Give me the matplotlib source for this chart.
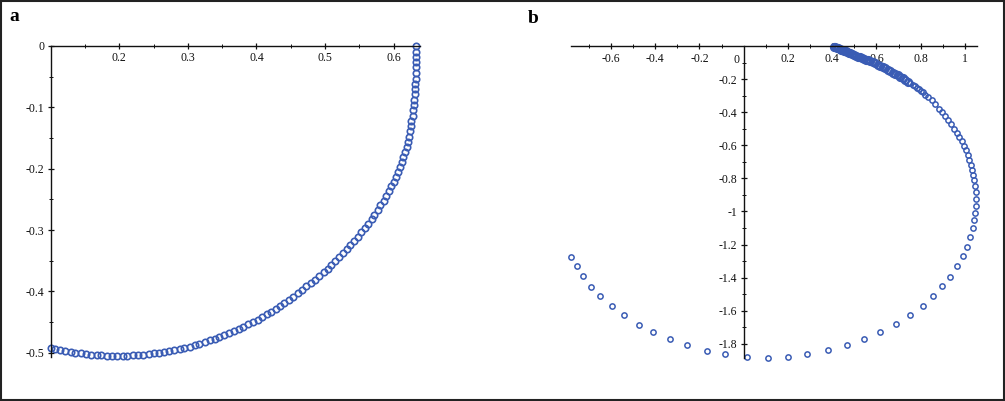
import matplotlib
matplotlib.use("Agg")
import matplotlib.pyplot as plt
from matplotlib.patches import Rectangle

plt.rcParams['font.family'] = ['Liberation Serif', 'DejaVu Serif']
plt.rcParams['axes.unicode_minus'] = False

# panel a: dense trajectory
a_x = [.633, .633, .633, .633, .633, .633, .633, .632, .632, .631,
       .630, .630, .629, .628, .626, .625, .624, .622, .621, .619,
       .617, .614, .612, .609, .606, .603, .600, .597, .593, .589,
       .586, .581, .577, .572, .568, .563, .558, .553, .548, .542,
       .537, .532, .526, .521, .515, .509, .504, .498, .492, .486,
       .479, .473, .467, .460, .454, .447, .441, .434, .428, .422,
       .415, .408, .402, .395, .388, .381, .374, .367, .360, .353,
       .346, .339, .332, .325, .317, .310, .303, .295, .288, .280,
       .273, .265, .258, .250, .243, .235, .227, .220, .212, .205,
       .197, .189, .182, .174, .167, .159, .151, .144, .136, .129,
       .121, .114, .106, .101]
a_y = [0, -.009, -.018, -.026, -.035, -.044, -.053, -.062, -.070, -.079,
       -.088, -.096, -.105, -.114, -.122, -.131, -.139, -.148, -.156, -.164,
       -.173, -.181, -.189, -.197, -.205, -.213, -.221, -.229, -.237, -.245,
       -.253, -.260, -.268, -.275, -.282, -.290, -.297, -.304, -.311, -.318,
       -.325, -.331, -.338, -.344, -.351, -.357, -.363, -.369, -.375, -.381,
       -.387, -.392, -.398, -.403, -.409, -.414, -.419, -.424, -.428, -.433,
       -.437, -.442, -.446, -.450, -.454, -.458, -.461, -.465, -.468, -.471,
       -.475, -.477, -.480, -.483, -.485, -.488, -.490, -.492, -.494, -.496,
       -.497, -.499, -.500, -.501, -.502, -.503, -.504, -.504, -.505, -.505,
       -.505, -.505, -.505, -.504, -.504, -.503, -.502, -.501, -.500, -.499,
       -.497, -.496, -.494, -.492]

# panel b: trajectory, dense near the start (0.4, 0)
b_x = [.407, .413, .420, .427, .434, .441, .447, .454, .461, .468,
       .474, .481, .490, .499, .508, .517, .526, .535, .545, .554,
       .563, .572, .583, .594, .606, .617, .628, .639, .651, .662,
       .673, .685, .696, .707, .718, .730, .741, .752, .764, .773,
       .782, .791, .800, .809, .820, .834,
       .850, .865, .881, .896, .911, .924, .938, .951, .963, .975,
       .986, .996, 1.005, 1.013, 1.020, 1.027, 1.033, 1.038, 1.043, 1.046,
       1.049, 1.050, 1.049, 1.047, 1.043, 1.036, 1.025, 1.009, .991, .965,
       .934, .898, .855, .810, .751, .690, .615, .546, .468, .382,
       .287, .201, .108, .014, -.082, -.165, -.254, -.332, -.408, -.474,
       -.539, -.597, -.647, -.688, -.724, -.754, -.780]
b_y = [-.002, -.006, -.010, -.013, -.017, -.021, -.024, -.028, -.031, -.035,
       -.039, -.042, -.047, -.052, -.057, -.062, -.067, -.071, -.076, -.081,
       -.086, -.091, -.097, -.103, -.111, -.119, -.127, -.134, -.143, -.151,
       -.159, -.167, -.176, -.184, -.194, -.204, -.214, -.224, -.234, -.243,
       -.251, -.260, -.269, -.279, -.292, -.308,
       -.328, -.352, -.377, -.400, -.424, -.448, -.472, -.498, -.523, -.549,
       -.575, -.602, -.630, -.658, -.687, -.717, -.748, -.779, -.812, -.844,
       -.882, -.922, -.964, -1.009, -1.054, -1.103, -1.156, -1.213, -1.271, -1.330,
       -1.395, -1.451, -1.512, -1.570, -1.628, -1.681, -1.729, -1.774, -1.810, -1.840,
       -1.864, -1.879, -1.885, -1.881, -1.864, -1.844, -1.810, -1.774, -1.729, -1.685,
       -1.628, -1.570, -1.510, -1.455, -1.390, -1.330, -1.275]
b_dense = 37  # first points overlap into a solid band

a_xticks = [0.2, 0.3, 0.4, 0.5, 0.6]
a_yticks = [0, -0.1, -0.2, -0.3, -0.4, -0.5]
b_xticks = [-0.6, -0.4, -0.2, 0.2, 0.4, 0.6, 0.8, 1]
b_yticks = [-0.2, -0.4, -0.6, -0.8, -1, -1.2, -1.4, -1.6, -1.8]

blue = '#3a5cb4'

fig = plt.figure(figsize=(10.05, 4.01), dpi=100)
fig.patch.set_facecolor('white')


def style_axes(ax, xcross, ycross):
    for s in ['top', 'right']:
        ax.spines[s].set_visible(False)
    ax.spines['left'].set_position(('data', xcross))
    ax.spines['bottom'].set_position(('data', ycross))
    for s in ['left', 'bottom']:
        ax.spines[s].set_linewidth(1.0)
        ax.spines[s].set_color('#111111')
    ax.tick_params(which='major', direction='inout', length=5, width=0.9,
                   labelsize=8.5, pad=2, colors='#111111')
    ax.tick_params(which='minor', direction='inout', length=3, width=0.7,
                   colors='#111111')
    ax.set_facecolor('none')


def fmt(v):
    return '%g' % v


# panel a
ax1 = fig.add_axes([0.0504, 0.1097, 0.3671, 0.7756])
ax1.plot(a_x, a_y, 'o', ms=4.6, mfc='none', mec=blue, mew=1.2, clip_on=False)
ax1.set_xlim(0.1, 0.638)
ax1.set_ylim(-0.507, 0)
style_axes(ax1, 0.1, 0)
ax1.set_xticks(a_xticks, [fmt(v) for v in a_xticks])
ax1.set_yticks(a_yticks, [fmt(v) for v in a_yticks])
ax1.set_xticks([0.15, 0.25, 0.35, 0.45, 0.55], minor=True)
ax1.set_yticks([-0.05, -0.15, -0.25, -0.35, -0.45], minor=True)

# panel b
ax2 = fig.add_axes([0.5682, 0.108, 0.4038, 0.7766])
ax2.plot(b_x[:b_dense], b_y[:b_dense], 'o', ms=5.0, mfc='none', mec=blue,
         mew=1.6, clip_on=False)
ax2.plot(b_x[b_dense:], b_y[b_dense:], 'o', ms=3.8, mfc='none', mec=blue,
         mew=1.1, clip_on=False)
ax2.set_xlim(-0.78, 1.054)
ax2.set_ylim(-1.885, 0)
style_axes(ax2, 0, 0)
ax2.set_xticks(b_xticks, [fmt(v) for v in b_xticks])
ax2.set_yticks(b_yticks, [fmt(v) for v in b_yticks])
ax2.set_xticks([-0.7, -0.5, -0.3, -0.1, 0.1, 0.3, 0.5, 0.7, 0.9], minor=True)
ax2.set_yticks([-0.1, -0.3, -0.5, -0.7, -0.9, -1.1, -1.3, -1.5, -1.7], minor=True)
ax2.annotate('0', xy=(0, 0), xytext=(-5, -10), textcoords='offset points',
             ha='center', va='center', fontsize=8.5, color='#111111')

# panel letters and outer frame
fig.text(0.014, 0.958, 'a', fontsize=14, fontweight='bold', ha='center', va='center')
fig.text(0.531, 0.955, 'b', fontsize=14, fontweight='bold', ha='center', va='center')
fig.add_artist(Rectangle((0.001, 0.002), 0.998, 0.996, transform=fig.transFigure,
                         fill=False, ec='#222222', lw=1.5))

fig.savefig('out.png', dpi=100)
